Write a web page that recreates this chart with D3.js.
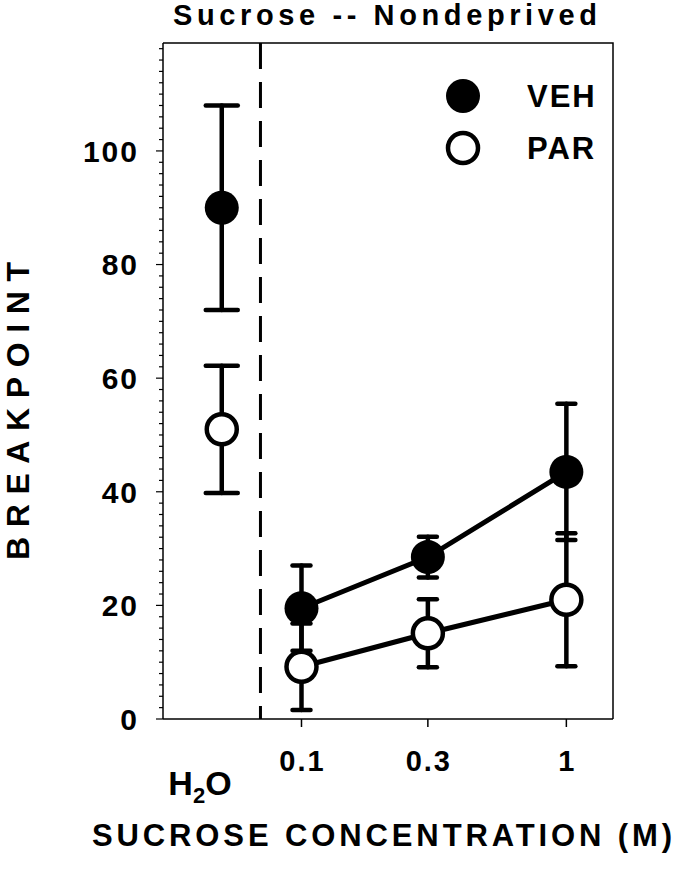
<!DOCTYPE html>
<html>
<head>
<meta charset="utf-8">
<script src="https://cdn.jsdelivr.net/npm/d3@7"></script>
<style>
  body { margin: 0; background: #fff; }
  text { font-family: Arial, "Liberation Sans", sans-serif; font-weight: bold; fill: #000; }
</style>
</head>
<body>
<svg id="chart" width="684" height="873"></svg>
<script>
// sucrose doses (M)
let doses = [0.1, 0.3, 1]
let doseLabels = ['0.1', '0.3', '1']
// breakpoint means and SEMs
let vehMean = [19.5, 28.5, 43.5]
let vehSem = [7.5, 3.6, 12]
let parMean = [9.2, 15.1, 21]
let parSem = [7.6, 6, 11.7]
// water condition
let vehH2O = [90, 18]   // mean, sem
let parH2O = [51, 11.2]
let yTicks = [0, 20, 40, 60, 80, 100]

let plotL = 163, plotR = 613, plotT = 43, plotB = 719
let h2oPos = 0.05, dividerPos = 0.07

let svg = d3.select('#chart')

let x = d3.scaleLog().domain([0.03, 1.5]).range([plotL, plotR])
let y = d3.scaleLinear().domain([0, 119]).range([plotB, plotT])

// frame (top and right)
svg.append('path')
  .attr('d', `M${plotL},${plotT}H${plotR}V${plotB}`)
  .attr('fill', 'none').attr('stroke', '#000').attr('stroke-width', 1.5)

// y axis with minor ticks
let yMinor = d3.range(0, 119, 2)
let yAxis = svg.append('g').attr('transform', `translate(${plotL},0)`)
yAxis.append('line').attr('x1', 0).attr('x2', 0).attr('y1', plotT).attr('y2', plotB)
  .attr('stroke', '#000').attr('stroke-width', 1.5)
yAxis.selectAll('line.minor').data(yMinor).enter().append('line')
  .attr('class', 'minor')
  .attr('x1', d => yTicks.includes(d) ? -7 : -4).attr('x2', 0)
  .attr('y1', d => y(d)).attr('y2', d => y(d))
  .attr('stroke', '#000').attr('stroke-width', 1.2)
yAxis.selectAll('text').data(yTicks).enter().append('text')
  .attr('x', -24).attr('y', d => y(d)).attr('dy', '0.36em')
  .attr('text-anchor', 'end')
  .style('font-size', '30px').style('letter-spacing', '2px')
  .text(d => d)

// x axis
let xAxis = svg.append('g').attr('transform', `translate(0,${plotB})`)
xAxis.append('line').attr('x1', plotL).attr('x2', plotR).attr('y1', 0).attr('y2', 0)
  .attr('stroke', '#000').attr('stroke-width', 1.5)
xAxis.selectAll('line.tick').data(doses).enter().append('line')
  .attr('class', 'tick')
  .attr('x1', d => x(d)).attr('x2', d => x(d)).attr('y1', 0).attr('y2', 8)
  .attr('stroke', '#000').attr('stroke-width', 1.5)
xAxis.selectAll('text').data(doses).enter().append('text')
  .attr('x', (d, i) => x(d) + 1).attr('y', 52)
  .attr('text-anchor', 'middle')
  .style('font-size', '29px').style('letter-spacing', '2px')
  .text((d, i) => doseLabels[i])

// H2O label
let h2oLabel = svg.append('text')
  .attr('x', 200).attr('y', 795).attr('text-anchor', 'middle')
  .style('font-size', '34px')
h2oLabel.append('tspan').text('H')
h2oLabel.append('tspan').attr('dy', 8).style('font-size', '22px').text('2')
h2oLabel.append('tspan').attr('dy', -8).text('O')

// dashed divider
svg.append('line')
  .attr('x1', x(dividerPos)).attr('x2', x(dividerPos))
  .attr('y1', plotT).attr('y2', plotB)
  .attr('stroke', '#000').attr('stroke-width', 3)
  .attr('stroke-dasharray', '26,13')

// titles
svg.append('text')
  .attr('x', 385).attr('y', 25).attr('text-anchor', 'middle')
  .attr('textLength', 424).attr('lengthAdjust', 'spacing')
  .style('font-size', '29px')
  .text('Sucrose -- Nondeprived')
svg.append('text')
  .attr('x', 382).attr('y', 846).attr('text-anchor', 'middle')
  .attr('textLength', 580).attr('lengthAdjust', 'spacing')
  .style('font-size', '31px')
  .text('SUCROSE CONCENTRATION (M)')
svg.append('text')
  .attr('transform', 'translate(29,411) rotate(-90)')
  .attr('text-anchor', 'middle')
  .attr('textLength', 298).attr('lengthAdjust', 'spacing')
  .style('font-size', '32px')
  .text('BREAKPOINT')

// series
let series = [
  { name: 'VEH', mean: vehMean, sem: vehSem, h2o: vehH2O, fill: '#000' },
  { name: 'PAR', mean: parMean, sem: parSem, h2o: parH2O, fill: '#fff' }
]

let line = d3.line().x(d => x(d[0])).y(d => y(d[1]))
series.forEach(s => {
  svg.append('path')
    .datum(doses.map((d, i) => [d, s.mean[i]]))
    .attr('d', line)
    .attr('fill', 'none').attr('stroke', '#000').attr('stroke-width', 5)
})

function errorBar(g, xv, m, e, capW) {
  let cx = x(xv)
  g.append('line').attr('x1', cx).attr('x2', cx).attr('y1', y(m + e)).attr('y2', y(m - e))
  ;[m + e, m - e].forEach(v => {
    g.append('line').attr('x1', cx - capW / 2).attr('x2', cx + capW / 2)
      .attr('y1', y(v)).attr('y2', y(v))
  })
}

let bars = svg.append('g').attr('stroke', '#000').attr('stroke-width', 4.5).attr('stroke-linecap', 'round')
series.forEach(s => {
  errorBar(bars, h2oPos, s.h2o[0], s.h2o[1], 32)
  doses.forEach((d, i) => errorBar(bars, d, s.mean[i], s.sem[i], 18))
})

series.forEach(s => {
  let pts = doses.map((d, i) => [d, s.mean[i]]).concat([[h2oPos, s.h2o[0]]])
  svg.selectAll(null).data(pts).enter().append('circle')
    .attr('cx', d => x(d[0])).attr('cy', d => y(d[1]))
    .attr('r', s.fill === '#000' ? 17 : 15)
    .attr('fill', s.fill).attr('stroke', '#000').attr('stroke-width', s.fill === '#000' ? 0 : 4.5)
})

// legend
let legend = svg.append('g')
series.forEach((s, i) => {
  let ly = 96 + i * 52
  legend.append('circle').attr('cx', 463).attr('cy', ly)
    .attr('r', s.fill === '#000' ? 17 : 15)
    .attr('fill', s.fill).attr('stroke', '#000').attr('stroke-width', s.fill === '#000' ? 0 : 4.5)
  legend.append('text').attr('x', 527).attr('y', ly + 11)
    .style('font-size', '31px').style('letter-spacing', '2px')
    .text(s.name)
})
</script>
</body>
</html>
